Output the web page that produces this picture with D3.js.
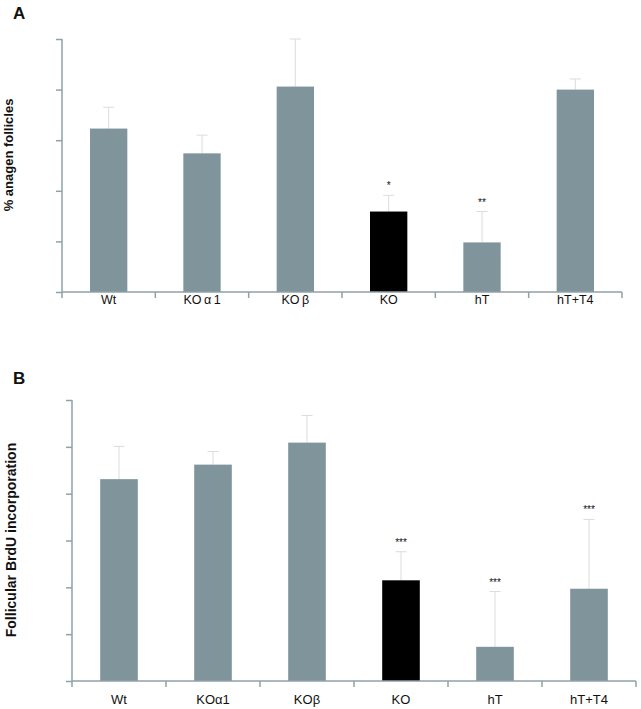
<!DOCTYPE html>
<html><head><meta charset="utf-8">
<script src="https://cdn.jsdelivr.net/npm/d3@7"></script>
<style>body{margin:0;background:#fff;} svg{display:block;}</style>
</head><body>
<svg id="c" width="641" height="709"></svg>
<script>
const categories = ["Wt", "KO\u2009α\u20091", "KO\u2009β", "KO", "hT", "hT+T4"];
const categoriesB = ["Wt", "KOα1", "KOβ", "KO", "hT", "hT+T4"];
const anagenValues = [3.23, 2.74, 4.06, 1.59, 0.98, 4.0];
const anagenErrors = [0.42, 0.36, 0.94, 0.32, 0.61, 0.21];
const anagenStars = ["", "", "", "*", "**", ""];
const brduValues = [4.31, 4.62, 5.09, 2.15, 0.73, 1.97];
const brduErrors = [0.70, 0.28, 0.58, 0.61, 1.18, 1.48];
const brduStars = ["", "", "", "***", "***", "***"];
const barColors = ["#7f959b", "#7f959b", "#7f959b", "#000000", "#7f959b", "#7f959b"];

const svg = d3.select("#c");
const FONT = "Liberation Sans, Arial, sans-serif";

function panel(o) {
  const g = svg.append("g");
  const x = d3.scaleBand().domain(o.cats).range([o.x0, o.x1]);
  const y = d3.scaleLinear().domain([0, o.ymax]).range([o.yb, o.yt]);
  const ya = g.append("g").attr("transform", `translate(${o.x0},0)`)
    .call(d3.axisLeft(y).ticks(o.ymax).tickSize(6).tickFormat(""));
  ya.selectAll("line,path").attr("stroke", "#8fa2a7").attr("stroke-width", 1.5);
  ya.select(".domain").attr("d", `M0,${o.yb}V${o.yt}`);
  const bw = x.bandwidth() * 0.4;
  o.cats.forEach((c, i) => {
    const cx = x(c) + x.bandwidth() / 2;
    const v = o.vals[i], e = o.errs[i];
    g.append("line").attr("x1", cx).attr("x2", cx).attr("y1", y(v)).attr("y2", y(v + e))
      .attr("stroke", "#dcdcdc").attr("stroke-width", 1);
    g.append("line").attr("x1", cx - 5.5).attr("x2", cx + 5.5).attr("y1", y(v + e)).attr("y2", y(v + e))
      .attr("stroke", "#dcdcdc").attr("stroke-width", 1);
    g.append("rect").attr("x", cx - bw / 2).attr("width", bw)
      .attr("y", y(v)).attr("height", y(0) - y(v)).attr("fill", barColors[i]);
    if (o.stars[i]) {
      g.append("text").attr("x", cx).attr("y", y(v + e) - 6).attr("text-anchor", "middle")
        .attr("font-family", FONT).attr("font-size", 10).attr("fill", "#111").text(o.stars[i]);
    }
  });
  const xa = g.append("g").attr("transform", `translate(0,${o.yb})`)
    .call(d3.axisBottom(x).tickSize(0).tickFormat(""));
  xa.selectAll("line,path").attr("stroke", "#8fa2a7").attr("stroke-width", 1.5);
  xa.select(".domain").attr("d", `M${o.x0},0H${o.x1}`);
  const edges = o.cats.map(c => x(c)).concat([o.x1]);
  edges.forEach(ex => g.append("line").attr("x1", ex).attr("x2", ex).attr("y1", o.yb).attr("y2", o.yb + 6)
    .attr("stroke", "#8fa2a7").attr("stroke-width", 1.5));
  o.cats.forEach((c, i) => {
    g.append("text").attr("x", x(c) + x.bandwidth() / 2).attr("y", o.labY).attr("text-anchor", "middle")
      .attr("font-family", FONT).attr("font-size", o.labSize).attr("fill", "#111").text(o.labels[i]);
  });
  g.append("text").attr("transform", `translate(${o.titleX},${o.titleY}) rotate(-90)`)
    .attr("text-anchor", "middle").attr("font-family", FONT).attr("font-weight", "bold")
    .attr("font-size", o.titleSize).attr("fill", "#111").text(o.title);
  g.append("text").attr("x", o.letterX).attr("y", o.letterY).attr("font-family", FONT)
    .attr("font-weight", "bold").attr("font-size", 17).attr("fill", "#111").text(o.letter);
}

panel({cats: categories, labels: categories, vals: anagenValues, errs: anagenErrors, stars: anagenStars,
  x0: 62, x1: 622, yb: 292, yt: 39, ymax: 5, labY: 304, labSize: 12.5,
  title: "% anagen follicles", titleX: 13, titleY: 155, titleSize: 13,
  letter: "A", letterX: 13, letterY: 19});
panel({cats: categoriesB, labels: categoriesB, vals: brduValues, errs: brduErrors, stars: brduStars,
  x0: 72, x1: 636, yb: 681, yt: 400, ymax: 6, labY: 704, labSize: 13,
  title: "Follicular BrdU incorporation", titleX: 16, titleY: 540, titleSize: 14,
  letter: "B", letterX: 13, letterY: 384});
</script>
</body></html>
